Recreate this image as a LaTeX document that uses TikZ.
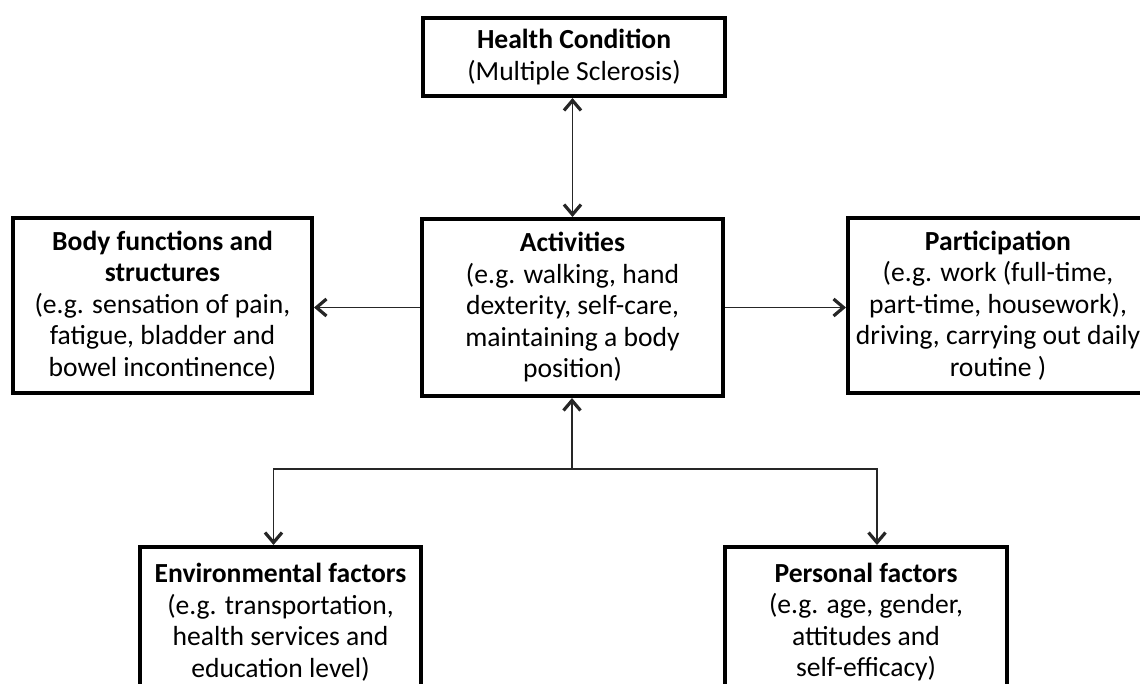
\documentclass[tikz,border=0pt]{standalone}
\usepackage{fontspec}
\setmainfont{Carlito}
\usepackage{tikz}
\usetikzlibrary{arrows.meta}

\begin{document}
\begin{tikzpicture}[x=0.5pt, y=-0.5pt,
										>={Straight Barb[length=5pt,width=8.5pt,line width=1.6pt]},
										box/.style={draw, line width=2pt, align=center, inner sep=0pt,
											font=\fontsize{13.8}{15.75}\selectfont},
										link/.style={line width=0.8pt, draw=black!85}]

		\clip (0,0) rectangle (1140,684);

		\node [box, minimum width=151pt, minimum height=39pt] (health) at (574,57)
			{\textbf{Health Condition}\\(Multiple Sclerosis)};
		\node [box, minimum width=150.5pt, minimum height=88.5pt] (act) at (572.5,307.5)
			{\textbf{Activities}\\(e.g. walking, hand\\dexterity, self-care,\\maintaining a body\\position)};
		\node [box, minimum width=149.5pt, minimum height=87.5pt] (body) at (162.5,305.5)
			{\textbf{Body functions and}\\\textbf{structures}\\(e.g. sensation of pain,\\fatigue, bladder and\\bowel incontinence)};
		\node [box, minimum width=150pt, minimum height=87.5pt] (part) at (998,305.5)
			{\textbf{Participation}\\(e.g. work (full-time,\\part-time, housework),\\driving, carrying out daily\\routine )};
		\node [box, anchor=north, minimum width=140.5pt, minimum height=75pt] (env) at (280.5,545)
			{\textbf{Environmental factors}\\(e.g. transportation,\\health services and\\education level)};
		\node [box, anchor=north, minimum width=141pt, minimum height=75pt] (pers) at (866,545)
			{\textbf{Personal factors}\\(e.g. age, gender,\\attitudes and\\self-efficacy)};

		\coordinate (split) at (572,469);

		\draw [link, <->] (act.north) -- (act.north |- health.south);
		\draw [link, ->] (act.west) -- (act.west -| body.east);
		\draw [link, ->] (act.east) -- (act.east -| part.west);
		\draw [link, ->] (split) -- (split |- act.south);
		\draw [link, ->] (split) -| ([xshift=-3.5pt]env.north);
		\draw [link, ->] (split) -| ([xshift=5.5pt]pers.north);

\end{tikzpicture}
\end{document}
